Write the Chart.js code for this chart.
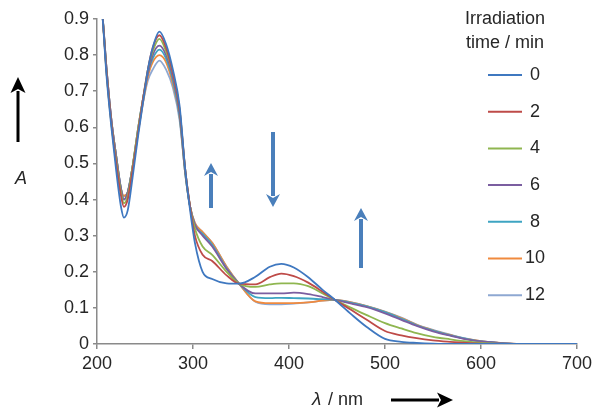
<!DOCTYPE html>
<html>
<head>
<meta charset="utf-8">
<script src="https://cdn.jsdelivr.net/npm/chart.js@4.4.1/dist/chart.umd.min.js"></script>
<style>
  html, body { margin: 0; padding: 0; background: #fff; }
  #spectra { display: block; }
</style>
</head>
<body>
<canvas id="spectra" width="602" height="420"></canvas>
<script>
// wavelengths in nm
const wavelengths = [200, 205, 210, 215, 220, 225, 228, 232, 237, 243, 248, 253, 258, 265, 272, 279, 286, 292, 297, 302,
                     310, 320, 335, 348, 365, 380, 392, 405, 420, 435, 448, 465, 481, 500, 517, 533, 550, 568, 585, 600, 620, 640, 670, 700];

// absorbance per irradiation time (min)
const abs0  = [1.00, 0.93, 0.74, 0.60, 0.48, 0.38, 0.35, 0.37, 0.46, 0.58, 0.67, 0.76, 0.82, 0.865, 0.83, 0.76, 0.66, 0.48, 0.37, 0.28,
               0.20, 0.18, 0.168, 0.167, 0.186, 0.214, 0.222, 0.212, 0.185, 0.15, 0.122, 0.082, 0.047, 0.014, 0.006, 0.003, 0.001, 0, 0, 0, 0, 0, 0, 0];
const abs2  = [1.00, 0.93, 0.75, 0.61, 0.50, 0.41, 0.38, 0.40, 0.48, 0.59, 0.68, 0.76, 0.82, 0.855, 0.82, 0.75, 0.65, 0.48, 0.38, 0.30,
               0.247, 0.23, 0.19, 0.167, 0.165, 0.185, 0.195, 0.188, 0.17, 0.145, 0.122, 0.094, 0.067, 0.036, 0.024, 0.016, 0.01, 0.006, 0.003, 0.001, 0, 0, 0, 0];
const abs4  = [1.00, 0.93, 0.75, 0.61, 0.51, 0.42, 0.39, 0.41, 0.49, 0.60, 0.68, 0.76, 0.81, 0.845, 0.81, 0.75, 0.65, 0.48, 0.38, 0.32,
               0.27, 0.247, 0.20, 0.167, 0.158, 0.165, 0.168, 0.168, 0.16, 0.14, 0.122, 0.10, 0.08, 0.058, 0.043, 0.03, 0.02, 0.013, 0.007, 0.003, 0.001, 0, 0, 0];
const abs6  = [1.00, 0.93, 0.76, 0.62, 0.52, 0.43, 0.40, 0.42, 0.49, 0.60, 0.68, 0.75, 0.80, 0.826, 0.80, 0.74, 0.64, 0.48, 0.38, 0.33,
               0.30, 0.27, 0.208, 0.167, 0.14, 0.14, 0.14, 0.142, 0.138, 0.13, 0.122, 0.112, 0.102, 0.085, 0.067, 0.05, 0.035, 0.023, 0.013, 0.007, 0.003, 0, 0, 0];
const abs8  = [1.00, 0.93, 0.76, 0.62, 0.52, 0.43, 0.40, 0.42, 0.49, 0.60, 0.68, 0.75, 0.79, 0.815, 0.79, 0.73, 0.63, 0.47, 0.38, 0.33,
               0.305, 0.275, 0.21, 0.167, 0.13, 0.127, 0.128, 0.127, 0.126, 0.124, 0.122, 0.114, 0.104, 0.088, 0.07, 0.052, 0.037, 0.024, 0.014, 0.007, 0.003, 0, 0, 0];
const abs10 = [1.00, 0.93, 0.76, 0.62, 0.52, 0.43, 0.41, 0.42, 0.49, 0.59, 0.67, 0.74, 0.78, 0.80, 0.78, 0.72, 0.63, 0.47, 0.38, 0.335,
               0.31, 0.28, 0.214, 0.167, 0.118, 0.113, 0.113, 0.113, 0.115, 0.12, 0.122, 0.115, 0.105, 0.089, 0.072, 0.053, 0.038, 0.025, 0.014, 0.008, 0.003, 0, 0, 0];
const abs12 = [1.00, 0.93, 0.76, 0.62, 0.52, 0.43, 0.41, 0.42, 0.49, 0.59, 0.67, 0.73, 0.76, 0.785, 0.76, 0.71, 0.62, 0.47, 0.38, 0.335,
               0.31, 0.28, 0.214, 0.167, 0.117, 0.11, 0.11, 0.112, 0.115, 0.12, 0.122, 0.115, 0.105, 0.09, 0.073, 0.054, 0.039, 0.026, 0.015, 0.008, 0.003, 0, 0, 0];

const times  = ['0', '2', '4', '6', '8', '10', '12'];
const series = [abs0, abs2, abs4, abs6, abs8, abs10, abs12];
const colors = ['#3f78c0', '#be4b48', '#8fb650', '#7b5ea0', '#3ea4c2', '#f08a3e', '#8ea8d2'];

const FONT = "'Liberation Sans', Arial, sans-serif";
const TEXT = '#262626';
const AXIS = '#8a8a8a';

function toPoints(ys) {
    return ys.map((y, i) => ({ x: wavelengths[i], y: y }));
}

// arrows, axis labels and legend
const decorations = {
    id: 'decorations',
    afterDraw(chart) {
        const ctx = chart.ctx;
        ctx.save();

        function arrow(x1, y1, x2, y2, color, shaft, headW, headL) {
            const ang = Math.atan2(y2 - y1, x2 - x1);
            const bx = x2 - Math.cos(ang) * headL, by = y2 - Math.sin(ang) * headL;
            ctx.strokeStyle = color;
            ctx.fillStyle = color;
            ctx.lineWidth = shaft;
            ctx.lineCap = 'butt';
            ctx.beginPath();
            ctx.moveTo(x1, y1);
            ctx.lineTo(bx + Math.cos(ang) * 2, by + Math.sin(ang) * 2);
            ctx.stroke();
            const nx = -Math.sin(ang) * headW / 2, ny = Math.cos(ang) * headW / 2;
            ctx.beginPath();
            ctx.moveTo(x2, y2);
            ctx.lineTo(bx + nx, by + ny);
            ctx.lineTo(bx + Math.cos(ang) * 4, by + Math.sin(ang) * 4);
            ctx.lineTo(bx - nx, by - ny);
            ctx.closePath();
            ctx.fill();
        }

        // y axis: arrow + italic A
        arrow(18, 142, 18, 77, '#000', 3, 15, 16);
        ctx.fillStyle = TEXT;
        ctx.font = 'italic 18px ' + FONT;
        ctx.textAlign = 'center';
        ctx.textBaseline = 'middle';
        ctx.fillText('A', 21, 179);

        // x axis: λ / nm + arrow
        ctx.font = 'italic 19px ' + FONT;
        ctx.textAlign = 'left';
        ctx.fillText('\u03bb', 312, 400);
        ctx.font = '18px ' + FONT;
        ctx.fillText(' / nm', 323, 400);
        arrow(391, 400, 453, 400, '#000', 3, 15, 16);

        // blue trend arrows
        const blue = '#4a7fbb';
        arrow(211, 208, 211, 163, blue, 4, 14, 13);
        arrow(273, 132, 273, 207, blue, 4, 14, 13);
        arrow(361, 268, 361, 208, blue, 4, 14, 13);

        // legend
        ctx.fillStyle = TEXT;
        ctx.font = '18px ' + FONT;
        ctx.textAlign = 'center';
        ctx.fillText('Irradiation', 505, 19);
        ctx.fillText('time / min', 505, 43);
        chart.data.datasets.forEach((ds, i) => {
            const y = 75 + i * 36.7;
            ctx.strokeStyle = ds.borderColor;
            ctx.lineWidth = 2;
            ctx.beginPath();
            ctx.moveTo(488, y);
            ctx.lineTo(522, y);
            ctx.stroke();
            ctx.fillStyle = TEXT;
            ctx.fillText(ds.label, 535, y);
        });

        ctx.restore();
    }
};

new Chart(document.getElementById('spectra').getContext('2d'), {
    type: 'line',
    data: {
        datasets: series.map((ys, i) => ({
            label: times[i],
            data: toPoints(ys),
            borderColor: colors[i],
            backgroundColor: colors[i],
            borderWidth: 1.8,
            pointRadius: 0,
            cubicInterpolationMode: 'monotone',
            fill: false
        }))
    },
    options: {
        responsive: false,
        animation: false,
        devicePixelRatio: 1,
        layout: { padding: { left: 0, right: 25, top: 19, bottom: 0 } },
        plugins: {
            legend: { display: false },
            tooltip: { enabled: false }
        },
        scales: {
            x: {
                type: 'linear',
                min: 200,
                max: 700,
                afterFit: (s) => { s.height = 76; },
                ticks: { stepSize: 100, color: TEXT, font: { size: 18, family: FONT }, padding: 4, maxRotation: 0 },
                grid: { drawOnChartArea: false, drawTicks: true, tickLength: 5, color: AXIS, lineWidth: 1.5 },
                border: { color: AXIS, width: 1.5 }
            },
            y: {
                min: 0,
                max: 0.9,
                afterFit: (s) => { s.width = 97; },
                ticks: { stepSize: 0.1, color: TEXT, font: { size: 18, family: FONT }, padding: 4 },
                grid: { drawOnChartArea: false, drawTicks: true, tickLength: 4, color: AXIS, lineWidth: 1.5 },
                border: { color: AXIS, width: 1.5 }
            }
        }
    },
    plugins: [decorations]
});
</script>
</body>
</html>
